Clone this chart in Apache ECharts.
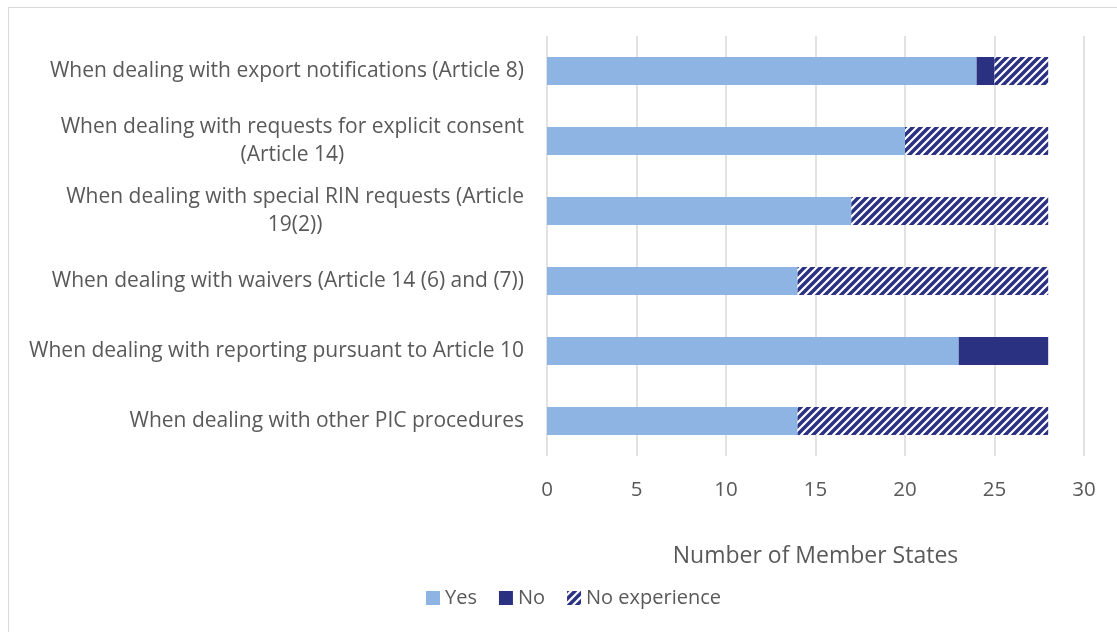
<!DOCTYPE html>
<html>
<head>
<meta charset="utf-8">
<script src="https://cdn.jsdelivr.net/npm/echarts@6/dist/echarts.min.js"></script>
<style>
  html, body { margin: 0; padding: 0; background: #fff; overflow: hidden; }
  #frame { position: absolute; left: 8px; top: 7px; width: 1200px; height: 700px; border: 1px solid #d9d9d9; box-sizing: border-box; }
  #chart { position: absolute; left: 0; top: 0; width: 1117px; height: 632px; }
</style>
</head>
<body>
<div id="frame"></div>
<div id="chart"></div>
<script>
// procedures asked about
var categories = [
  "When dealing with export notifications (Article 8)",
  "When dealing with requests for explicit consent\n(Article 14)",
  "When dealing with special RIN requests (Article\n19(2))",
  "When dealing with waivers (Article 14 (6) and (7))",
  "When dealing with reporting pursuant to Article 10",
  "When dealing with other PIC procedures"
];
var yesValues = [24, 20, 17, 14, 23, 14];
var noValues = [1, 0, 0, 0, 5, 0];
var noExperienceValues = [3, 8, 11, 14, 0, 14];
var xTicks = [0, 5, 10, 15, 20, 25, 30];

var navy = "#2a3181";
var grey = "#595959";

// diagonal stripe pattern for "No experience"
function stripes() {
  var n = 8;
  var c = document.createElement("canvas");
  c.width = n;
  c.height = n;
  var ctx = c.getContext("2d");
  ctx.fillStyle = "#fff";
  ctx.fillRect(0, 0, n, n);
  ctx.strokeStyle = navy;
  ctx.lineWidth = 3.4;
  ctx.beginPath();
  for (var k = -1; k <= 1; k++) {
    ctx.moveTo(k * n - 2, n + 2);
    ctx.lineTo(k * n + n + 2, -2);
  }
  ctx.stroke();
  return c;
}

var font = "'Open Sans', 'Noto Sans', sans-serif";
var chart = echarts.init(document.getElementById("chart"));
chart.setOption({
  backgroundColor: "transparent",
  textStyle: { fontFamily: font },
  animation: false,
  grid: { left: 547, right: 33, top: 36, height: 420, containLabel: false },
  legend: {
    bottom: 19,
    left: 421,
    itemWidth: 14,
    itemHeight: 14,
    itemGap: 22,
    icon: "rect",
    textStyle: { fontSize: 20, color: grey, fontFamily: font, padding: [0, 0, 0, 0] },
    data: ["Yes", "No", "No experience"]
  },
  xAxis: {
    type: "value",
    min: xTicks[0],
    max: xTicks[xTicks.length - 1],
    interval: 5,
    name: "Number of Member States",
    nameLocation: "middle",
    nameGap: 89,
    nameTextStyle: { fontSize: 23, color: grey, fontFamily: font },
    axisLine: { show: false },
    axisTick: { show: false },
    axisLabel: { fontSize: 20.5, color: grey, margin: 24, fontFamily: font },
    splitLine: { lineStyle: { color: "#d9d9d9", width: 1.5 } }
  },
  yAxis: {
    type: "category",
    inverse: true,
    data: categories,
    axisLine: { show: false },
    axisTick: { show: false },
    axisLabel: {
      fontSize: 21,
      color: grey,
      margin: 23,
      lineHeight: 28,
      fontFamily: font,
      formatter: function (v) {
        return v.split("\n").map(function (s) { return "{c|" + s + "}"; }).join("\n");
      },
      rich: { c: { align: "center", fontSize: 21, color: grey, lineHeight: 28, fontFamily: font } }
    }
  },
  series: [
    {
      name: "Yes",
      type: "bar",
      stack: "total",
      barWidth: 28,
      itemStyle: { color: "#8eb4e3" },
      data: yesValues
    },
    {
      name: "No",
      type: "bar",
      stack: "total",
      barWidth: 28,
      itemStyle: { color: navy },
      data: noValues
    },
    {
      name: "No experience",
      type: "bar",
      stack: "total",
      barWidth: 28,
      itemStyle: { color: { image: stripes(), repeat: "repeat" } },
      data: noExperienceValues
    }
  ]
});
</script>
</body>
</html>
